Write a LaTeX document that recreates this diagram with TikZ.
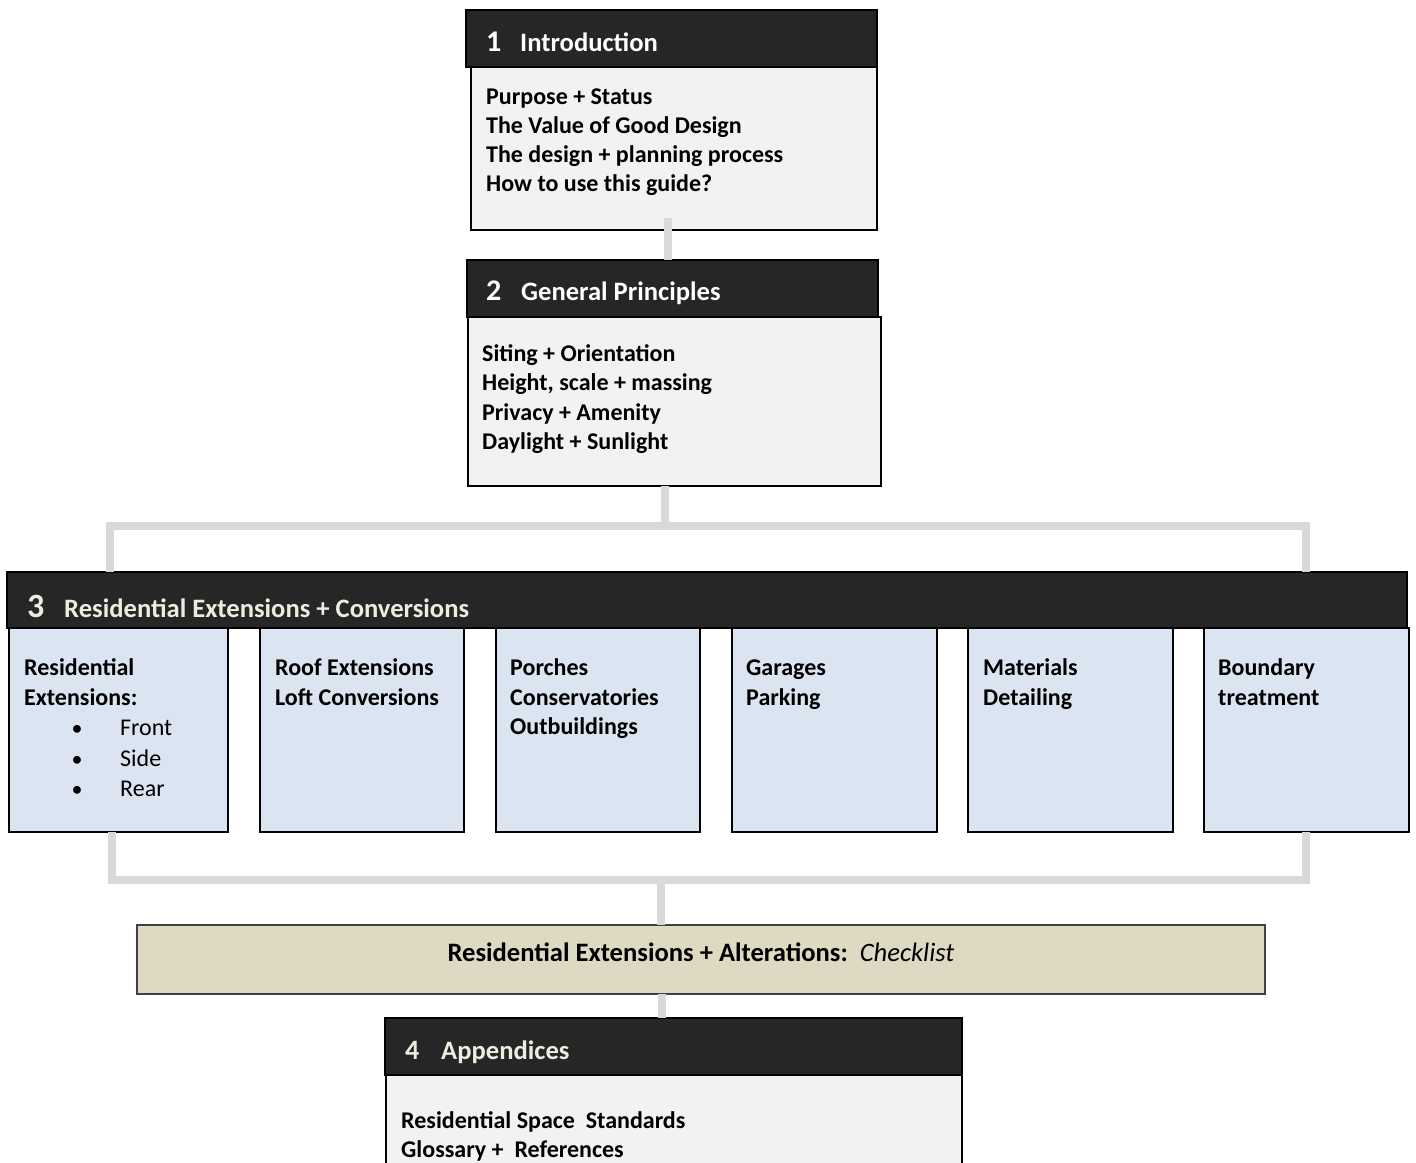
\documentclass[tikz,border=0pt]{standalone}
\usepackage{fontspec}
\setmainfont{Carlito}
\definecolor{hdrfill}{HTML}{262626}
\definecolor{bodyfill}{HTML}{F2F2F2}
\definecolor{bluefill}{HTML}{DBE5F1}
\definecolor{tanfill}{HTML}{DDD9C3}
\definecolor{linkgray}{HTML}{D9D9D9}
\definecolor{creamtext}{HTML}{EEECE1}
\begin{document}
\begin{tikzpicture}[x=1pt,y=-1pt,
  hdr/.style={fill=hdrfill, draw=black, line width=1.2pt, inner sep=0pt, outer sep=0pt},
  bodybox/.style={fill=bodyfill, draw=black, line width=2pt, inner sep=0pt, outer sep=0pt},
  subbox/.style={fill=bluefill, draw=black, line width=2pt, inner sep=0pt, outer sep=0pt},
  chkbox/.style={fill=tanfill, draw=black!75, line width=1.5pt, inner sep=0pt, outer sep=0pt},
  link/.style={draw=linkgray, line width=8pt, line join=miter},
  txt/.style={anchor=base west, inner sep=0pt, font=\fontsize{24}{28}\selectfont\bfseries},
  plain/.style={anchor=base west, inner sep=0pt, font=\fontsize{24}{28}\selectfont},
  bul/.style={anchor=base, inner sep=0pt, font=\fontsize{22}{26}\selectfont},
  num/.style={anchor=base west, inner sep=0pt, text=white, font=\fontsize{30}{34}\selectfont\bfseries},
  ttl/.style={anchor=base west, inner sep=0pt, text=white, font=\fontsize{26.6}{30}\selectfont\bfseries}
]
\clip (0,0) rectangle (1416,1162);
\fill[white] (0,0) rectangle (1416,1162);

\coordinate (barL) at (110,526);
\coordinate (barR) at (1306,526);
\coordinate (barM) at (665,526);
\coordinate (lowL) at (112,880);
\coordinate (lowR) at (1306,880);
\coordinate (lowM) at (661,880);

% boxes
\node[hdr, minimum width=411, minimum height=57] (h1) at (671.5,38.5) {};
\node[bodybox, minimum width=406, minimum height=163] (b1) at (674,148.5) {};
\node[hdr, minimum width=411, minimum height=57] (h2) at (672.5,288.5) {};
\node[bodybox, minimum width=413, minimum height=169] (b2) at (674.5,401.5) {};
\node[hdr, minimum width=1400, minimum height=56] (h3) at (707,600) {};
\node[subbox, minimum width=219, minimum height=204] (s1) at (118.5,730) {};
\node[subbox, minimum width=204, minimum height=204] (s2) at (362,730) {};
\node[subbox, minimum width=204, minimum height=204] (s3) at (598,730) {};
\node[subbox, minimum width=205, minimum height=204] (s4) at (834.5,730) {};
\node[subbox, minimum width=205, minimum height=204] (s5) at (1070.5,730) {};
\node[subbox, minimum width=205, minimum height=204] (s6) at (1306.5,730) {};
\node[chkbox, minimum width=1128, minimum height=69] (chk) at (701,959.5) {};
\node[hdr, minimum width=577, minimum height=57] (h4) at (673.5,1046.5) {};
\node[bodybox, minimum width=576, minimum height=140] (b4) at (674,1145) {};

% connectors
\draw[link] ([yshift=12pt]b1.south -| 668,0) -- (668,0 |- h2.north);
\draw[link] (b2.south -| barM) -- (barM);
\draw[link] (barL |- h3.north) -- (barL) -- (barR) -- (barR |- h3.north);
\draw[link] (s1.south -| lowL) -- (lowL) -- (lowR) -- (s6.south -| lowR);
\draw[link] (lowM) -- (lowM |- chk.north);
\draw[link] (chk.south -| 662,0) -- (662,0 |- h4.north);

% header 1
\node[num] (n1) at (486,51) {1};
\node[ttl] (t1) at (520,51) {Introduction};
\node[txt] (l11) at (486,104) {Purpose + Status};
\node[txt] (l12) at (486,133) {The Value of Good Design};
\node[txt] (l13) at (486,162) {The design + planning process};
\node[txt] (l14) at (486,191) {How to use this guide?};

% header 2
\node[num] (n2) at (486,300) {2};
\node[ttl] (t2) at (521,300) {General Principles};
\node[txt] (l21) at (482,361) {Siting + Orientation};
\node[txt] (l22) at (482,390) {Height, scale + massing};
\node[txt] (l23) at (482,420) {Privacy + Amenity};
\node[txt] (l24) at (482,449) {Daylight + Sunlight};

% header 3
\node[num, text=creamtext, font=\fontsize{34}{38}\selectfont\bfseries] (n3) at (27,617) {3};
\node[ttl, text=creamtext] (t3) at (64,617) {Residential Extensions + Conversions};

\node[txt] (a1) at (24,675) {Residential};
\node[txt] (a2) at (24,705) {Extensions:};
\node[bul] (d1) at (77,735) {•};
\node[plain] (a3) at (120,735) {Front};
\node[bul] (d2) at (77,766) {•};
\node[plain] (a4) at (120,766) {Side};
\node[bul] (d3) at (77,796) {•};
\node[plain] (a5) at (120,796) {Rear};

\node[txt] (c1) at (275,675) {Roof Extensions};
\node[txt] (c2) at (275,705) {Loft Conversions};

\node[txt] (p1) at (510,675) {Porches};
\node[txt] (p2) at (510,705) {Conservatories};
\node[txt] (p3) at (510,734) {Outbuildings};

\node[txt] (g1) at (746,675) {Garages};
\node[txt] (g2) at (746,705) {Parking};

\node[txt] (m1) at (983,675) {Materials};
\node[txt] (m2) at (983,705) {Detailing};

\node[txt] (bt1) at (1218,675) {Boundary};
\node[txt] (bt2) at (1218,705) {treatment};

% checklist
\node[anchor=base, inner sep=0pt, font=\fontsize{26.6}{30}\selectfont] (ck) at (701,961) {\textbf{Residential Extensions + Alterations:}\ \ \textit{Checklist}};

% header 4
\node[num, text=creamtext, font=\fontsize{28}{32}\selectfont\bfseries] (n4) at (405,1059) {4};
\node[ttl, text=creamtext] (t4) at (441,1059) {Appendices};
\node[txt] (r1) at (401,1128) {Residential Space\ \ Standards};
\node[txt] (r2) at (401,1157) {Glossary +\ \ References};
\end{tikzpicture}
\end{document}
